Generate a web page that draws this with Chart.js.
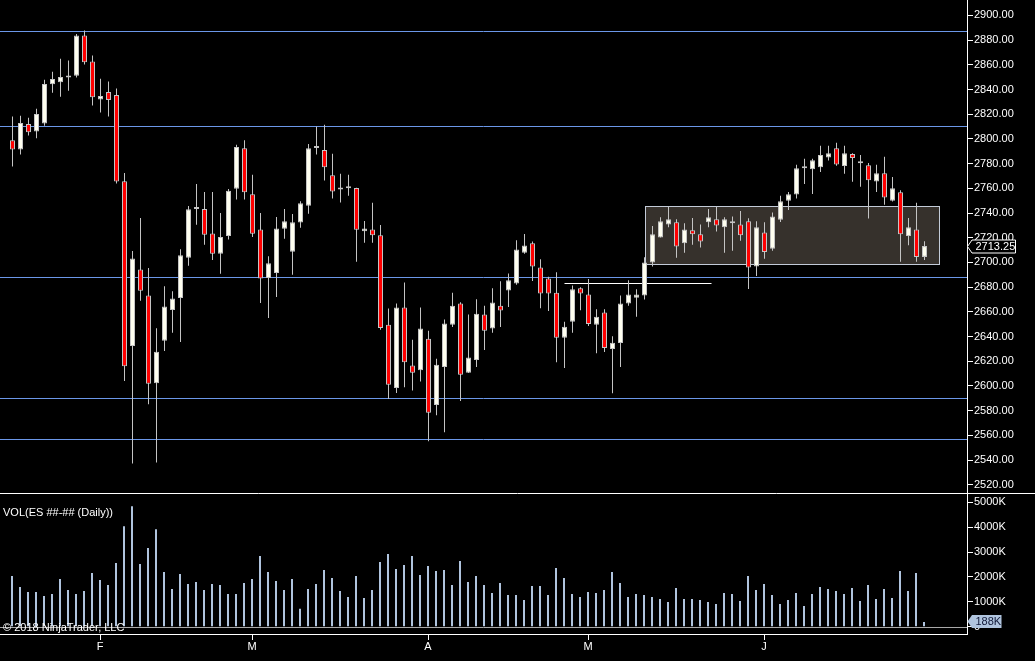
<!DOCTYPE html>
<html>
<head>
<meta charset="utf-8">
<script src="https://cdn.jsdelivr.net/npm/chart.js@4.4.1/dist/chart.umd.min.js"></script>
<style>
  html, body { margin: 0; padding: 0; background: #000; width: 1035px; height: 661px; overflow: hidden; }
  canvas { position: absolute; left: 0; display: block; }
  #priceChart { top: 0; }
  #volChart { top: 494px; }
  .note { position: absolute; left: 3px; color: #fff; font: 11px "Liberation Sans", Arial, sans-serif; line-height: 13px; white-space: nowrap; z-index: 2; }
</style>
</head>
<body>
<canvas id="priceChart" width="1035" height="494"></canvas>
<canvas id="volChart" width="1035" height="167"></canvas>
<div class="note" style="top:506px">VOL(ES ##-## (Daily))</div>
<div class="note" style="top:621px">© 2018 NinjaTrader, LLC</div>
<script>
// daily ES bars, mid Jan .. end of Jun 2018
const opens = [2799, 2791.5, 2812, 2806, 2812.5, 2844.25, 2846, 2849.75, 2851.25, 2883.75,
  2862.75, 2832, 2838, 2835.5, 2765.75, 2632.25, 2694.25, 2673.25, 2602.25, 2636.5,
  2661.5, 2671.25, 2703.75, 2743.5, 2743.25, 2723.5, 2707, 2721.5, 2759.75, 2792.5,
  2755.25, 2726.75, 2687.5, 2691.5, 2727.25, 2708.75, 2732.25, 2746, 2792.75, 2791,
  2770.5, 2759.25, 2761.75, 2760.25, 2725.25, 2726.75, 2722, 2649.5, 2598.25, 2663.5,
  2616.5, 2612.75, 2638.25, 2584.5, 2615.25, 2649.5, 2666.75, 2610.75, 2621, 2657.75,
  2646.5, 2665, 2677.25, 2683, 2707.75, 2715.5, 2696, 2687, 2675.5, 2639,
  2652, 2679, 2674, 2649.5, 2659.5, 2630, 2634.75, 2666.75, 2671.5, 2673.25,
  2700, 2720.25, 2730.75, 2732.5, 2715.5, 2726, 2722.75, 2732.5, 2735, 2728.5,
  2733.25, 2730.75, 2733.25, 2696.75, 2724.25, 2711, 2734.5, 2750, 2755, 2777.75,
  2775.5, 2777, 2785, 2792.5, 2778, 2787.75, 2780.5, 2778.75, 2765.5, 2772.25,
  2750, 2756.75, 2721.5, 2726.75, 2704.5];
const highs = [2818.25, 2818.75, 2817.25, 2824.5, 2848, 2854.5, 2865, 2863.5, 2885, 2887.75,
  2867.5, 2848.75, 2846.5, 2840.75, 2772.5, 2709.25, 2736, 2695.5, 2646.75, 2680.75,
  2676.75, 2710.75, 2745.75, 2763.5, 2757, 2757, 2740, 2759.5, 2795.25, 2799,
  2771, 2740, 2705, 2736.75, 2743.25, 2739.25, 2749.5, 2796, 2810, 2811.5,
  2788, 2771.75, 2771, 2760.5, 2733.5, 2748.25, 2730.25, 2662.75, 2666.75, 2683.75,
  2637.5, 2663.5, 2644.75, 2622, 2653.75, 2675.5, 2667.75, 2657.75, 2670.25, 2665,
  2679, 2684.75, 2691, 2718, 2723, 2717, 2702.5, 2688.5, 2692, 2652,
  2681.25, 2680, 2686.5, 2662, 2662, 2640.25, 2673.25, 2685.5, 2678.25, 2704.25,
  2729.5, 2736.5, 2745, 2735, 2731.75, 2736, 2730.75, 2743.25, 2745, 2736.5,
  2737.25, 2741.75, 2735.75, 2733.25, 2732.5, 2740.5, 2754, 2757, 2779, 2784,
  2784, 2794.5, 2794.5, 2797, 2794.5, 2788.5, 2787, 2780.5, 2779, 2785.5,
  2769.25, 2758.5, 2736, 2748.25, 2717.25];
const lows = [2777.75, 2787.5, 2802.75, 2800.5, 2810.75, 2837.5, 2834.25, 2839, 2849.75, 2860.25,
  2827, 2821.5, 2818.25, 2764, 2604, 2537.25, 2669, 2585.25, 2538, 2628.25,
  2643, 2635.5, 2697.25, 2730.5, 2714.25, 2702, 2690.75, 2718.5, 2751, 2751,
  2720.5, 2667.25, 2655, 2672, 2719.25, 2690, 2728, 2739.5, 2787.5, 2766.25,
  2751.75, 2748.5, 2754, 2700.5, 2716, 2716, 2645.5, 2589.5, 2594.25, 2599,
  2596.25, 2603.5, 2555.25, 2576.25, 2562.5, 2647.75, 2587.75, 2610.5, 2615.25, 2629,
  2643, 2647.75, 2664, 2682, 2707, 2685, 2663, 2660.75, 2619.25, 2614.5,
  2643, 2661.25, 2648.5, 2626.5, 2627.5, 2594, 2615.25, 2665, 2656, 2670,
  2696.75, 2720.25, 2728.5, 2703.75, 2707.75, 2714.25, 2712, 2728.5, 2725, 2707.75,
  2709.5, 2717.5, 2678.5, 2689, 2703, 2709.5, 2732.75, 2742.5, 2751.75, 2763.5,
  2755.5, 2773.25, 2782.5, 2778.25, 2771.75, 2765.25, 2761.25, 2735.5, 2757, 2746.75,
  2749.25, 2700.5, 2714, 2700.5, 2702];
const closes = [2791.5, 2813, 2805.5, 2820.25, 2844.5, 2848.5, 2850.25, 2850, 2883.75, 2862,
  2833.75, 2834.75, 2831.5, 2765.5, 2616, 2703.25, 2677, 2601.75, 2627.75, 2664.25,
  2670.75, 2705.75, 2743, 2743.25, 2722.5, 2707, 2720.5, 2758, 2793.5, 2756.75,
  2723.25, 2687, 2699.25, 2727.5, 2733.25, 2732.5, 2748, 2792.5, 2793, 2777,
  2757.5, 2759, 2760, 2726.5, 2727.5, 2722, 2647, 2601, 2663.5, 2619.25,
  2610.75, 2646.5, 2578.25, 2617.25, 2650.5, 2665, 2609, 2623, 2658.5, 2644.75,
  2667.5, 2661, 2685.5, 2710.5, 2713.75, 2696.75, 2674.75, 2674.75, 2639, 2648,
  2678.25, 2674.75, 2650.25, 2656, 2630.75, 2635, 2666.75, 2674, 2674, 2700,
  2722.75, 2733.25, 2735, 2713, 2726.75, 2722.75, 2717, 2736.5, 2730, 2735,
  2731.75, 2722, 2696, 2728.5, 2708.5, 2737.25, 2749.5, 2755.25, 2776.25, 2776.25,
  2782.75, 2787, 2788.5, 2779.25, 2788.5, 2784.5, 2780.25, 2766.5, 2772.25, 2752.5,
  2760, 2722.75, 2728.5, 2704.5, 2713.25];
// volume in thousands of contracts
const volumes = [2040, 1600, 1400, 1400, 1240, 1320, 1920, 1480, 1320, 1440,
  2160, 1880, 1680, 2560, 4040, 4840, 2520, 3160, 3920, 2200,
  1520, 2120, 1720, 1800, 1480, 1720, 1680, 1320, 1320, 1760,
  1920, 2840, 2200, 1840, 1480, 1920, 720, 1520, 1720, 2280,
  1960, 1440, 1200, 2040, 1160, 1480, 2600, 2920, 2320, 2480,
  2840, 2080, 2440, 2240, 2280, 1680, 2640, 1800, 2040, 1680,
  1360, 1760, 1280, 1280, 1080, 1640, 1640, 1280, 2360, 1960,
  1320, 1200, 1400, 1360, 1480, 2200, 1760, 1200, 1320, 1280,
  1200, 1120, 1000, 1560, 1120, 1120, 1080, 1000, 920, 1360,
  1320, 1040, 2040, 1480, 1720, 1280, 920, 1080, 1360, 840,
  1320, 1600, 1520, 1440, 1320, 1560, 1040, 1680, 1120, 1520,
  1160, 2240, 1440, 2160, 188];

const priceTicks = [2520, 2540, 2560, 2580, 2600, 2620, 2640, 2660, 2680, 2700,
  2720, 2740, 2760, 2780, 2800, 2820, 2840, 2860, 2880, 2900];
const volTicks = [0, 1000, 2000, 3000, 4000, 5000];
const monthTickIdx = [11, 30, 52, 72, 94];
const monthLabels = ['F', 'M', 'A', 'M', 'J'];

// drawn levels on the price pane
const levels = [2887.5, 2810.5, 2688.25, 2590.25, 2557];
const supportLevel = 2683;
const supportFrom = 68.94;
const supportTo = 87.3;
const zoneFrom = 79.1;
const zoneTo = 115.85;
const zoneLow = 2698.5;
const zoneHigh = 2745.75;

const FONT = '"Liberation Sans", Arial, sans-serif';
Chart.defaults.font.family = FONT;
Chart.defaults.font.size = 11;
Chart.defaults.color = '#ffffff';

const idx = opens.map((_, i) => i);
const bodyData = idx.map(i => ({ x: i, y: [opens[i], closes[i]] }));
const wickData = idx.map(i => ({ x: i, y: [lows[i], highs[i]] }));
const bodyColors = idx.map(i => closes[i] >= opens[i] ? '#fffff0' : '#ff0000');
const volData = idx.map(i => ({ x: i, y: volumes[i] }));

const rightAxis = (min, max, tickValues, fmt) => ({
  position: 'right',
  min, max,
  afterBuildTicks: s => { s.ticks = tickValues.map(v => ({ value: v })); },
  afterFit: s => { s.width = 68; s.paddingTop = 0; s.paddingBottom = 0; },
  grid: { drawOnChartArea: false, drawTicks: true, tickLength: 6, color: '#ffffff' },
  border: { display: true, color: '#ffffff', width: 1 },
  ticks: { color: '#ffffff', padding: 1, autoSkip: false, callback: fmt },
});

const drawMarker = (ctx, ax, py, w, fill, stroke, textColor, text) => {
  ctx.beginPath();
  ctx.moveTo(ax, py);
  ctx.lineTo(ax + 4.5, py - 6.5);
  ctx.lineTo(ax + w, py - 6.5);
  ctx.lineTo(ax + w, py + 6.5);
  ctx.lineTo(ax + 4.5, py + 6.5);
  ctx.closePath();
  ctx.fillStyle = fill;
  ctx.fill();
  if (stroke) {
    ctx.strokeStyle = stroke;
    ctx.lineWidth = 1;
    ctx.stroke();
  }
  ctx.fillStyle = textColor;
  ctx.font = '11px ' + FONT;
  ctx.textBaseline = 'middle';
  ctx.textAlign = 'left';
  ctx.fillText(text, ax + 8, py + 0.5);
};

const priceOverlay = {
  id: 'priceOverlay',
  beforeDatasetsDraw(chart) {
    const { ctx, chartArea } = chart;
    const xs = chart.scales.x, ys = chart.scales.y;
    const px = v => Math.round(xs.getPixelForValue(v)) + 0.5;
    const py = v => Math.round(ys.getPixelForValue(v)) + 0.5;
    ctx.save();
    ctx.lineWidth = 1;

    const zx0 = px(zoneFrom), zx1 = px(zoneTo), zy0 = py(zoneHigh), zy1 = py(zoneLow);
    ctx.fillStyle = '#36312c';
    ctx.fillRect(zx0, zy0, zx1 - zx0, zy1 - zy0);
    ctx.strokeStyle = '#c3cbd8';
    ctx.strokeRect(zx0, zy0, zx1 - zx0, zy1 - zy0);

    ctx.strokeStyle = '#6b97e8';
    levels.forEach(v => {
      ctx.beginPath();
      ctx.moveTo(chartArea.left, py(v));
      ctx.lineTo(chartArea.right, py(v));
      ctx.stroke();
    });

    ctx.strokeStyle = '#ffffff';
    ctx.beginPath();
    ctx.moveTo(px(supportFrom), py(supportLevel));
    ctx.lineTo(px(supportTo), py(supportLevel));
    ctx.stroke();
    ctx.restore();
  },
  afterDraw(chart) {
    const { ctx, chartArea } = chart;
    const ys = chart.scales.y;
    ctx.save();
    // pane separator
    ctx.strokeStyle = '#ffffff';
    ctx.lineWidth = 1;
    ctx.beginPath();
    ctx.moveTo(0, chart.height - 0.5);
    ctx.lineTo(chart.width, chart.height - 0.5);
    ctx.stroke();
    // last price marker
    const last = closes[closes.length - 1];
    const py = Math.round(ys.getPixelForValue(last)) + 0.5;
    drawMarker(ctx, chartArea.right + 0.5, py, 48, '#000000', '#ffffff', '#ffffff', last.toFixed(2));
    ctx.restore();
  }
};

const volOverlay = {
  id: 'volOverlay',
  beforeDatasetsDraw(chart) {
    const { ctx, chartArea } = chart;
    const y0 = Math.round(chart.scales.y.getPixelForValue(0)) + 0.5;
    ctx.save();
    ctx.strokeStyle = '#a8a8a8';
    ctx.lineWidth = 1;
    ctx.beginPath();
    ctx.moveTo(chartArea.left, y0);
    ctx.lineTo(chartArea.right, y0);
    ctx.stroke();
    ctx.restore();
  },
  afterDraw(chart) {
    const { ctx, chartArea } = chart;
    const last = volumes[volumes.length - 1];
    const py = Math.round(chart.scales.y.getPixelForValue(last)) - 0.5;
    ctx.save();
    drawMarker(ctx, chartArea.right + 0.5, py, 34, '#b0c4de', null, '#101838', last + 'K');
    ctx.restore();
  }
};

new Chart(document.getElementById('priceChart'), {
  type: 'bar',
  data: {
    datasets: [{
      label: 'Body',
      data: bodyData,
      order: 0,
      grouped: false,
      barThickness: 5,
      minBarLength: 2,
      inflateAmount: 0,
      backgroundColor: bodyColors,
      borderColor: '#c4c4c4',
      borderWidth: 1,
      borderSkipped: false,
    }, {
      label: 'Wick',
      data: wickData,
      order: 1,
      grouped: false,
      barThickness: 1,
      inflateAmount: 0,
      backgroundColor: '#c4c4c4',
      borderWidth: 0,
    }]
  },
  options: {
    responsive: false,
    animation: false,
    layout: { padding: 0 },
    plugins: { legend: { display: false }, tooltip: { enabled: false } },
    scales: {
      x: { type: 'linear', display: false, min: -1.5625, max: 119.3125, offset: false },
      y: rightAxis(2512.5, 2912.5, priceTicks, v => v.toFixed(2)),
    }
  },
  plugins: [priceOverlay]
});

new Chart(document.getElementById('volChart'), {
  type: 'bar',
  data: {
    datasets: [{
      label: 'VOL',
      data: volData,
      barThickness: 2,
      inflateAmount: 0,
      backgroundColor: '#b0c4de',
      borderWidth: 0,
    }]
  },
  options: {
    responsive: false,
    animation: false,
    layout: { padding: 0 },
    plugins: { legend: { display: false }, tooltip: { enabled: false } },
    scales: {
      x: {
        type: 'linear',
        position: 'bottom',
        min: -1.5, max: 119.375,
        offset: false,
        afterBuildTicks: s => { s.ticks = monthTickIdx.map(v => ({ value: v })); },
        afterFit: s => { s.height = 27; s.paddingLeft = 0; s.paddingRight = 0; },
        grid: { offset: false, drawOnChartArea: false, drawTicks: true, tickLength: 6, color: '#ffffff' },
        border: { display: true, color: '#ffffff', width: 1 },
        ticks: { color: '#ffffff', padding: 0, maxRotation: 0, autoSkip: false, callback: (v, i) => monthLabels[i] },
      },
      y: rightAxis(-289, 5333, volTicks, v => v === 0 ? '0' : v + 'K'),
    }
  },
  plugins: [volOverlay]
});
</script>
</body>
</html>
